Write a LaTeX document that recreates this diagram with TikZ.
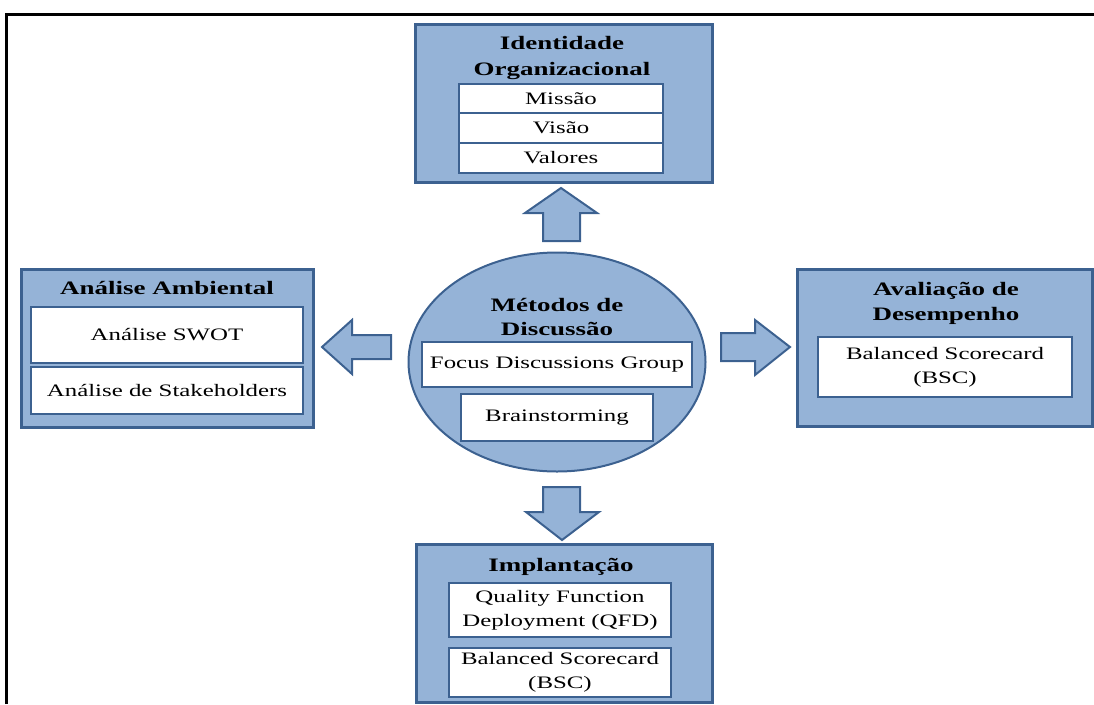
\documentclass[tikz,border=0pt]{standalone}
\usepackage{fontspec}
\setmainfont{Liberation Serif}
\usepackage{graphicx}
\usetikzlibrary{shapes.geometric}
\definecolor{panelfill}{HTML}{95B3D7}
\definecolor{paneledge}{HTML}{3C6190}
% widened lettering used throughout the chart
\newcommand{\wx}[1]{\scalebox{1.42}[1]{#1}}

\begin{document}
\begin{tikzpicture}[x=1pt,y=-1pt,
  panel/.style={draw=paneledge, fill=panelfill, line width=3pt, inner sep=0pt},
  item/.style={draw=paneledge, fill=white, line width=2.6pt, inner sep=0pt,
    align=center, font=\fontsize{17.5}{24}\selectfont},
  heading/.style={anchor=base, inner sep=0pt, font=\bfseries\fontsize{19}{25}\selectfont},
  blockarrow/.style={draw=paneledge, fill=panelfill, line width=2pt, line join=miter}]

\useasboundingbox (0,0) rectangle (1094,704);

% page frame (top and left rules)
\draw[line width=3pt, line join=miter] (6.5,704) -- (6.5,14.5) -- (1094,14.5);

% ---------- Identidade Organizacional ----------
\node[panel, minimum width=297pt, minimum height=158pt] (ident) at (563.5,103) {};
\node[heading] (identA) at (562,49) {\wx{Identidade}};
\node[heading] (identB) at (562,75) {\wx{Organizacional}};
\node[item, minimum width=204pt, minimum height=29pt] (missao) at (561,98.5) {\wx{Missão}};
\node[item, minimum width=204pt, minimum height=30pt] (visao) at (561,128) {\wx{Visão}};
\node[item, minimum width=204pt, minimum height=30pt] (valores) at (561,158) {\wx{Valores}};

% ---------- Análise Ambiental ----------
\node[panel, minimum width=292pt, minimum height=158pt] (amb) at (167,348) {};
\node[heading] (ambT) at (167,294) {\wx{Análise Ambiental}};
\node[item, minimum width=272pt, minimum height=56pt] (swot) at (167,335) {\wx{Análise SWOT}};
\node[item, minimum width=272pt, minimum height=47pt] (stake) at (167,390.5) {\wx{Análise de Stakeholders}};

% ---------- Métodos de Discussão ----------
\node[ellipse, draw=paneledge, fill=panelfill, line width=2pt, inner sep=0pt,
      minimum width=297pt, minimum height=219pt] (metodos) at (557,362) {};
\node[heading] (metA) at (557,311) {\wx{Métodos de}};
\node[heading] (metB) at (557,335) {\wx{Discussão}};
\node[item, minimum width=270pt, minimum height=45pt] (focus) at (557,364.5) {\wx{Focus Discussions Group}};
\node[item, minimum width=192pt, minimum height=47pt] (brain) at (557,417.5) {\wx{Brainstorming}};

% ---------- Avaliação de Desempenho ----------
\node[panel, minimum width=295pt, minimum height=157pt] (aval) at (944.5,347.5) {};
\node[heading] (avalA) at (946,295) {\wx{Avaliação de}};
\node[heading] (avalB) at (946,320) {\wx{Desempenho}};
\node[item, minimum width=254pt, minimum height=60pt] (bscA) at (945,367)
  {\wx{Balanced Scorecard}\\\wx{(BSC)}};

% ---------- Implantação ----------
\node[panel, minimum width=296pt, minimum height=158pt] (impl) at (564,623) {};
\node[heading] (implT) at (561,571) {\wx{Implantação}};
\node[item, minimum width=222pt, minimum height=54pt] (qfd) at (560,610)
  {\wx{Quality Function}\\\wx{Deployment (QFD)}};
\node[item, minimum width=222pt, minimum height=49pt] (bscB) at (560,672.5)
  {\wx{Balanced Scorecard}\\\wx{(BSC)}};

% ---------- block arrows around the centre ----------
% up
\draw[blockarrow] (543,241) -- (543,213) -- (525,213) -- (561,188) -- (597,213)
  -- (580,213) -- (580,241) -- cycle;
% left
\draw[blockarrow] (391,335) -- (352,335) -- (352,320) -- (322,347) -- (352,374)
  -- (352,359) -- (391,359) -- cycle;
% right
\draw[blockarrow] (721,333) -- (755,333) -- (755,320) -- (790,347) -- (755,375)
  -- (755,361) -- (721,361) -- cycle;
% down
\draw[blockarrow] (543,487) -- (580,487) -- (580,512) -- (599,512) -- (562,540)
  -- (526,512) -- (543,512) -- cycle;
\end{tikzpicture}
\end{document}
